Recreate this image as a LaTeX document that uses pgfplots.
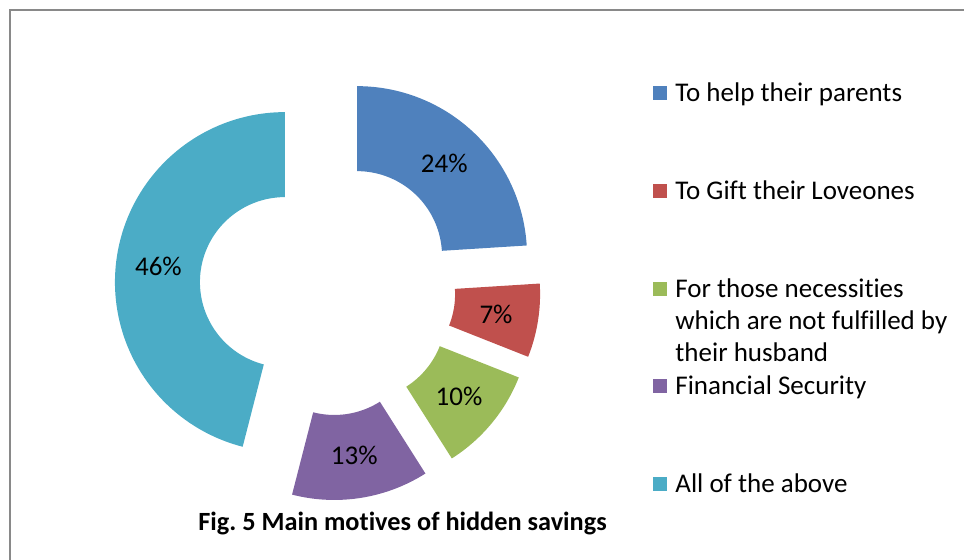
\documentclass[border=0pt]{standalone}
\usepackage{fontspec}
\setmainfont{Carlito}[Ligatures=NoCommon]
\usepackage{pgfplots}
\usepackage{pgfplotstable}
\pgfplotsset{compat=1.18}

\definecolor{c0}{HTML}{4F81BD}
\definecolor{c1}{HTML}{C0504D}
\definecolor{c2}{HTML}{9BBB59}
\definecolor{c3}{HTML}{8064A2}
\definecolor{c4}{HTML}{4BACC6}
\definecolor{frame}{HTML}{898989}

% share of each motive (percent), clockwise from 12 o'clock
\pgfplotstableread{
id motive value
0 help 24
1 gift 7
2 need 10
3 fin 13
4 all 46
}\datatable

% geometry in pixel units (y measured upward)
\def\Cx{327.6}
\def\Cy{272.5}
\def\Ro{170}
\def\Ri{85}
\def\Dx{43}

\def\cum{0}
\foreach \i in {0,...,4}{%
  \pgfplotstablegetelem{\i}{value}\of\datatable
  \edef\val{\pgfplotsretval}%
  \pgfmathsetmacro\a{\cum*3.6}%
  \pgfmathsetmacro\b{(\cum+\val)*3.6}%
  \pgfmathsetmacro\m{(\a+\b)/2}%
  \pgfmathsetmacro\ox{\Cx+\Dx*sin(\m)}%
  \pgfmathsetmacro\oy{\Cy+\Dx*cos(\m)}%
  \pgfmathsetmacro\lx{\ox+(\Ro+\Ri)/2*sin(\m)}%
  \pgfmathsetmacro\ly{\oy+(\Ro+\Ri)/2*cos(\m)}%
  \expandafter\xdef\csname sa\i\endcsname{\a}%
  \expandafter\xdef\csname sb\i\endcsname{\b}%
  \expandafter\xdef\csname ox\i\endcsname{\ox}%
  \expandafter\xdef\csname oy\i\endcsname{\oy}%
  \expandafter\xdef\csname lx\i\endcsname{\lx}%
  \expandafter\xdef\csname ly\i\endcsname{\ly}%
  \expandafter\xdef\csname pv\i\endcsname{\val}%
  \pgfmathsetmacro\nc{\cum+\val}%
  \xdef\cum{\nc}%
}

\newcommand\drawseg[1]{%
  \edef\A{\csname sa#1\endcsname}\edef\B{\csname sb#1\endcsname}%
  \edef\OX{\csname ox#1\endcsname}\edef\OY{\csname oy#1\endcsname}%
  \edef\temp{\noexpand\addplot[fill=c#1, draw=none, domain=0:2, samples=201, variable=\noexpand\t]
   ({\OX+ifthenelse(\noexpand\t<1.005,\Ro,\Ri)*sin(ifthenelse(\noexpand\t<1.005,\A+min(\noexpand\t,1)*(\B-\A),\B-(\noexpand\t-1.01)/0.99*(\B-\A)))},
    {\OY+ifthenelse(\noexpand\t<1.005,\Ro,\Ri)*cos(ifthenelse(\noexpand\t<1.005,\A+min(\noexpand\t,1)*(\B-\A),\B-(\noexpand\t-1.01)/0.99*(\B-\A)))});}%
  \temp
  \node[font=\fontsize{13.5}{16}\selectfont, inner sep=0pt] at (axis cs:\csname lx#1\endcsname,\csname ly#1\endcsname) {\csname pv#1\endcsname\%};%
}

\newcommand\legsq[2]{% color, center y (pixel from top)
  \fill[#1] (axis cs:653,{560-#2-7}) rectangle (axis cs:667,{560-#2+7});}
\newcommand\legtx[2]{% baseline y (pixel from top), text
  \node[anchor=base west, inner sep=0pt, font=\fontsize{13.5}{16}\selectfont] at (axis cs:675,{560-#1}) {#2};}

\begin{document}
\begin{tikzpicture}
\begin{axis}[x=0.5pt, y=0.5pt, xmin=0, xmax=964, ymin=0, ymax=560,
  hide axis, clip=false, scale only axis]
\draw[frame, line width=1pt] (axis cs:10,-2) -- (axis cs:10,549.5) -- (axis cs:966,549.5);
\drawseg{0}
\drawseg{1}
\drawseg{2}
\drawseg{3}
\drawseg{4}
\legsq{c0}{93}
\legsq{c1}{191}
\legsq{c2}{289}
\legsq{c3}{386}
\legsq{c4}{484}
\legtx{101.5}{To help their parents}
\legtx{199.5}{To Gift their Loveones}
\legtx{297.5}{For those necessities}
\legtx{329.5}{which are not fulfilled by}
\legtx{361.5}{their husband}
\legtx{394.5}{Financial Security}
\legtx{492.5}{All of the above}
\node[anchor=base, inner sep=0pt, font=\fontsize{13.15}{16}\selectfont\bfseries] at (axis cs:402.5,{560-531}) {Fig.~5 Main motives of hidden savings};
\end{axis}
\pgfresetboundingbox
\path (0,0) rectangle (482pt,280pt);
\end{tikzpicture}
\end{document}
